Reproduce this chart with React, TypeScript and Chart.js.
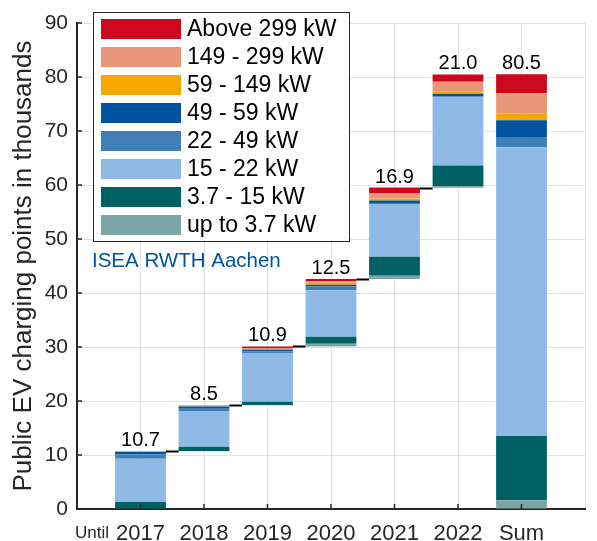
import { useEffect, useRef } from "react";
import { Chart, registerables } from "chart.js";
Chart.register(...registerables);

const categories = ["", "2017", "2018", "2019", "2020", "2021", "2022", "Sum", ""];
const yearTotals = [10.7, 8.5, 10.9, 12.5, 16.9, 21.0];
const sumTotal = 80.5;
const yTicks = [0, 10, 20, 30, 40, 50, 60, 70, 80, 90];

const seriesLabels = [
  "up to 3.7 kW",
  "3.7 - 15 kW",
  "15 - 22 kW",
  "22 - 49 kW",
  "49 - 59 kW",
  "59 - 149 kW",
  "149 - 299 kW",
  "Above 299 kW",
];
const seriesColors = [
  "#7da4a7",
  "#006165",
  "#8ebae5",
  "#407fb7",
  "#00549f",
  "#f6a800",
  "#e8967a",
  "#cc071e",
];

// values per bar: 2017, 2018, 2019, 2020, 2021, 2022, Sum (thousands)
const upTo3_7 = [0.1, 0.05, 0.05, 0.5, 0.6, 0.3, 1.6];
const kw3_7to15 = [1.2, 0.8, 0.6, 1.3, 3.5, 3.83, 11.9];
const kw15to22 = [8.0, 6.5, 9.05, 8.6, 9.7, 12.65, 53.5];
const kw22to49 = [0.8, 0.5, 0.3, 0.7, 0.25, 0.15, 1.9];
const kw49to59 = [0.5, 0.45, 0.3, 0.35, 0.5, 0.45, 3.1];
const kw59to149 = [0.05, 0.05, 0.15, 0.35, 0.37, 0.37, 1.3];
const kw149to299 = [0.03, 0.1, 0.15, 0.3, 0.9, 1.85, 3.7];
const above299 = [0.02, 0.05, 0.3, 0.4, 1.1, 1.35, 3.5];

const seriesValues = [upTo3_7, kw3_7to15, kw15to22, kw22to49, kw49to59, kw59to149, kw149to299, above299];

const FONT = "'Liberation Sans', Arial, Helvetica, sans-serif";
const TXT = "#262626";

export default function App() {
  const ref = useRef<HTMLCanvasElement | null>(null);

  useEffect(() => {
    if (!ref.current) return;
    // waterfall bases: cumulative totals of previous years, Sum starts at 0
    const bases: number[] = [];
    let acc = 0;
    yearTotals.forEach((t) => {
      bases.push(acc);
      acc += t;
    });
    const baseData = [null, ...bases, 0, null];
    const tops = [...yearTotals.map((t, i) => bases[i] + t), sumTotal];
    const labelsText = [...yearTotals.map((t) => t.toFixed(1)), sumTotal.toFixed(1)];

    const datasets: any[] = [
      {
        label: "base",
        data: baseData,
        backgroundColor: "rgba(0,0,0,0)",
        borderWidth: 0,
        stack: "s",
      },
      ...seriesLabels.map((lab, k) => ({
        label: lab,
        data: [null, ...seriesValues[k], null],
        backgroundColor: seriesColors[k],
        borderWidth: 0,
        stack: "s",
      })),
    ];

    const overlay = {
      id: "overlay",
      afterDraw(chart: any) {
        const ctx = chart.ctx;
        const xs = chart.scales.x;
        const ys = chart.scales.y;
        const area = chart.chartArea;
        const meta = chart.getDatasetMeta(1);
        ctx.save();
        // connectors
        ctx.strokeStyle = "#000";
        ctx.lineWidth = 2;
        for (let i = 0; i < yearTotals.length - 1; i++) {
          const a = meta.data[i + 1];
          const b = meta.data[i + 2];
          const y = Math.round(ys.getPixelForValue(tops[i])) + 0.5;
          ctx.beginPath();
          ctx.moveTo(a.x + a.width / 2, y);
          ctx.lineTo(b.x - b.width / 2, y);
          ctx.stroke();
        }
        // value labels
        ctx.fillStyle = "#000";
        ctx.font = `20px ${FONT}`;
        ctx.textAlign = "center";
        ctx.textBaseline = "alphabetic";
        for (let i = 0; i < tops.length; i++) {
          const x = xs.getPixelForValue(i + 1);
          const y = ys.getPixelForValue(tops[i]) - 5;
          ctx.fillText(labelsText[i], x, y);
        }
        // inward ticks
        ctx.strokeStyle = TXT;
        ctx.lineWidth = 1.5;
        yTicks.forEach((v) => {
          const y = ys.getPixelForValue(v);
          ctx.beginPath();
          ctx.moveTo(area.left, y);
          ctx.lineTo(area.left + 5, y);
          ctx.stroke();
        });
        for (let i = 1; i <= 7; i++) {
          const x = xs.getPixelForValue(i);
          ctx.beginPath();
          ctx.moveTo(x, area.bottom);
          ctx.lineTo(x, area.bottom - 5);
          ctx.stroke();
        }
        // Until
        ctx.fillStyle = TXT;
        ctx.font = `17px ${FONT}`;
        ctx.textAlign = "left";
        ctx.fillText("Until", 75, 538);
        // ISEA text
        ctx.fillStyle = "#00549f";
        ctx.font = `20.5px ${FONT}`;
        ctx.fillText("ISEA RWTH Aachen", 92, 267);
        // legend
        ctx.fillStyle = "#fff";
        ctx.fillRect(93, 12, 256, 229);
        ctx.strokeStyle = "#262626";
        ctx.lineWidth = 1;
        ctx.strokeRect(93.5, 12.5, 256, 229);
        ctx.font = `23px ${FONT}`;
        ctx.textBaseline = "middle";
        for (let r = 0; r < seriesLabels.length; r++) {
          const k = seriesLabels.length - 1 - r;
          const yTop = 19 + r * 28;
          ctx.fillStyle = seriesColors[k];
          ctx.fillRect(101, yTop, 80, 20);
          ctx.fillStyle = "#000";
          ctx.fillText(seriesLabels[k], 187, yTop + 11);
        }
        ctx.restore();
      },
    };

    const chart = new Chart(ref.current, {
      type: "bar",
      data: { labels: categories, datasets },
      options: {
        animation: false,
        responsive: false,
        layout: { padding: { top: 23, right: 0, left: 0, bottom: 0 } },
        plugins: { legend: { display: false }, tooltip: { enabled: false } },
        datasets: { bar: { barPercentage: 0.8, categoryPercentage: 1 } },
        scales: {
          x: {
            type: "category",
            stacked: true,
            offset: false,
            grid: { color: "#e2e2e2", drawTicks: false, offset: false },
            border: { color: TXT, width: 2 },
            ticks: {
              color: TXT,
              font: { family: FONT, size: 22 },
              padding: 12,
              autoSkip: false,
              maxRotation: 0,
            },
            afterFit: (s: any) => {
              s.height = 32;
            },
          },
          y: {
            stacked: true,
            min: 0,
            max: 90,
            grid: { color: "#e2e2e2", drawTicks: false },
            border: { color: TXT, width: 2 },
            ticks: {
              stepSize: 10,
              color: TXT,
              font: { family: FONT, size: 21 },
              padding: 9,
            },
            title: {
              display: true,
              text: "Public EV charging points in thousands",
              color: TXT,
              font: { family: FONT, size: 26, weight: "normal" },
              padding: { top: 8, bottom: 0 },
            },
            afterFit: (s: any) => {
              s.width = 77;
            },
          },
        },
      } as any,
      plugins: [overlay],
    });
    return () => chart.destroy();
  }, []);

  return (
    <div style={{ position: "fixed", left: 0, top: 0, width: 597, height: 541, background: "#fff" }}>
      <canvas ref={ref} width={597} height={541} />
    </div>
  );
}
